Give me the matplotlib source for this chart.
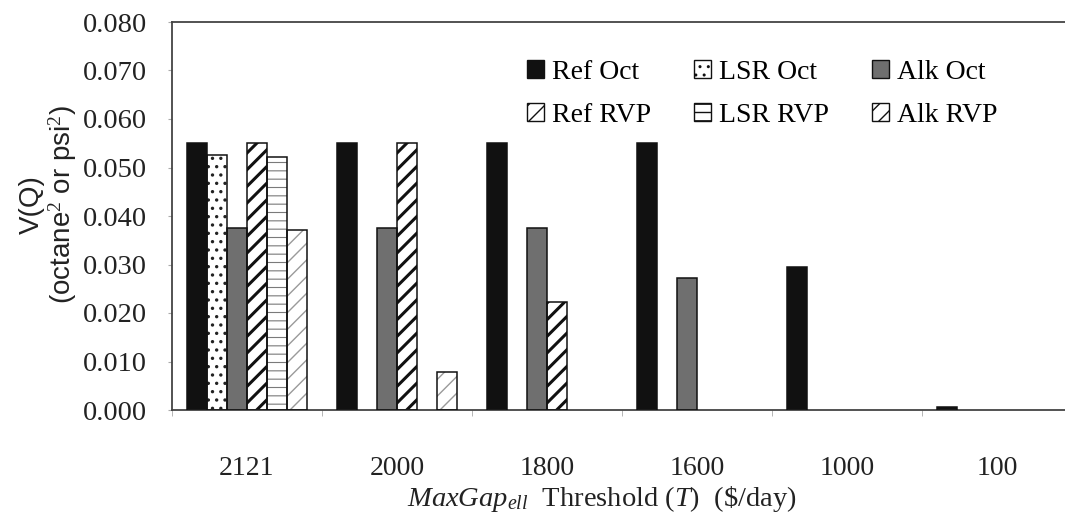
import numpy as np
import matplotlib
matplotlib.use("Agg")
import matplotlib.pyplot as plt
from matplotlib.patches import Patch

plt.rcParams['font.family'] = ['Liberation Serif', 'DejaVu Serif']
plt.rcParams['mathtext.fontset'] = 'custom'
plt.rcParams['mathtext.rm'] = 'Liberation Serif'
plt.rcParams['mathtext.it'] = 'Liberation Serif:italic'

# Thresholds (categories) and variance of each quality spec
thresholds = ["2121", "2000", "1800", "1600", "1000", "100"]
ref_oct = [0.0550, 0.0550, 0.0550, 0.0550, 0.0294, 0.0006]
lsr_oct = [0.0526, 0.0, 0.0, 0.0, 0.0, 0.0]
alk_oct = [0.0375, 0.0375, 0.0375, 0.0272, 0.0, 0.0]
ref_rvp = [0.0550, 0.0550, 0.0222, 0.0, 0.0, 0.0]
lsr_rvp = [0.0522, 0.0, 0.0, 0.0, 0.0, 0.0]
alk_rvp = [0.0372, 0.0079, 0.0, 0.0, 0.0, 0.0]

series = [
    ("Ref Oct", ref_oct, dict(face="#111111", hatch=None, hcolor=None, hlw=1.0)),
    ("LSR Oct", lsr_oct, dict(face="white", hatch="..", hcolor="#222222", hlw=1.2)),
    ("Alk Oct", alk_oct, dict(face="#6f6f6f", hatch=None, hcolor=None, hlw=1.0)),
    ("Ref RVP", ref_rvp, dict(face="white", hatch="//", hcolor="#111111", hlw=2.2)),
    ("LSR RVP", lsr_rvp, dict(face="white", hatch="--", hcolor="#7a7a7a", hlw=0.8)),
    ("Alk RVP", alk_rvp, dict(face="white", hatch="//", hcolor="#9a9a9a", hlw=1.0)),
]

W, H = 1065, 516
fig = plt.figure(figsize=(W / 100, H / 100), dpi=100)
ax = fig.add_axes([172 / W, 106 / H, 900 / W, 388 / H])

x = np.arange(len(thresholds))
bw = 0.8 / 6

for i, (name, vals, st) in enumerate(series):
    pos = x - 0.4 + bw * (i + 0.5)
    vals = np.asarray(vals)
    keep = vals > 0
    # fill + hatch layer
    fill = ax.bar(pos[keep], vals[keep], width=bw, color=st["face"],
                  edgecolor=st["hcolor"] if st["hatch"] else st["face"],
                  hatch=st["hatch"], linewidth=0, zorder=2)
    if st["hatch"]:
        for p in fill:
            if hasattr(p, "set_hatch_linewidth"):
                p.set_hatch_linewidth(st["hlw"])
    # outline layer
    ax.bar(pos[keep], vals[keep], width=bw, facecolor="none",
           edgecolor="#111111", linewidth=1.1, zorder=3)

ax.set_xlim(-0.5, len(thresholds) - 0.5)
ax.set_ylim(0, 0.080)
ax.set_yticks(np.arange(0, 0.0801, 0.010))
ax.yaxis.set_major_formatter(matplotlib.ticker.FormatStrFormatter("%.3f"))
ax.set_xticks(x)
ax.set_xticklabels(thresholds)
ax.set_xticks(np.arange(-0.5, len(thresholds)), minor=True)
ax.tick_params(axis="x", which="major", length=0, pad=33, labelsize=20, colors="#222222")
ax.tick_params(axis="x", which="minor", length=4, color="#aaaaaa", direction="out")
ax.tick_params(axis="y", length=3, color="#aaaaaa", labelsize=20.5, pad=15, labelcolor="#222222")

for s in ax.spines.values():
    s.set_color("#444444")
    s.set_linewidth(1.3)

ax.set_xlabel(r"$\mathit{MaxGap}_{\mathit{ell}}$  Threshold $\mathit{(T)}$  (\$/day)",
              fontsize=20.5, color="#222222")
ax.xaxis.set_label_coords(0.477, -0.19)
ax.set_ylabel("V(Q)\n(octane$^{2}$ or psi$^{2}$)", fontsize=20,
              color="#222222", linespacing=1.1,
              family=['Liberation Sans', 'DejaVu Sans'])
ax.yaxis.set_label_coords(-0.103, 0.53)

handles = []
for name, vals, st in series:
    handles.append(Patch(facecolor=st["face"], edgecolor="#111111",
                         hatch=st["hatch"], linewidth=1.0, label=name))
order = [0, 3, 1, 4, 2, 5]
leg = fig.legend([handles[k] for k in order], [series[k][0] for k in order],
                 ncol=3, loc="upper left", bbox_to_anchor=(502 / W, 1 - 35 / H),
                 frameon=False, fontsize=20, handlelength=0.6, handleheight=0.6,
                 handletextpad=0.3, columnspacing=1.55, labelspacing=0.65)

fig.savefig("out.png", dpi=100)
